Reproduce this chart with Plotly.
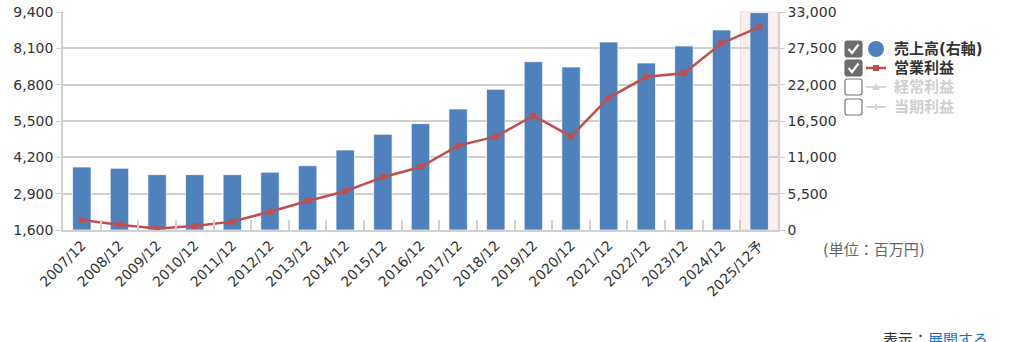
import plotly.graph_objects as go

categories = ["2007/12", "2008/12", "2009/12", "2010/12", "2011/12", "2012/12", "2013/12",
              "2014/12", "2015/12", "2016/12", "2017/12", "2018/12", "2019/12", "2020/12",
              "2021/12", "2022/12", "2023/12", "2024/12", "2025/12予"]
sales = [9530, 9340, 8380, 8380, 8380, 8740, 9730, 12110, 14490, 16100, 18320, 21300,
         25480, 24680, 28460, 25280, 27860, 30280, 32900]
op_profit = [1960, 1790, 1650, 1740, 1900, 2255, 2640, 2985, 3490, 3855, 4620, 4940,
             5690, 4950, 6330, 7080, 7210, 8280, 8860]
left_ticks = [1600, 2900, 4200, 5500, 6800, 8100, 9400]
right_ticks = [0, 5500, 11000, 16500, 22000, 27500, 33000]

W, H = 1024, 342
L, R, T, B = 63, 778, 12, 230
FONT = "DejaVu Sans, Noto Sans CJK JP, sans-serif"
BLUE = "#4F81BD"
RED = "#C0504D"
GRID = "#d0d0d0"


def px(x):
    return (x - L) / (R - L)


def py(y):
    return (B - y) / (B - T)


fig = go.Figure()
# bars on right-side axis (y), line on left-side axis (y2, drawn on top)
fig.add_trace(go.Bar(x=categories, y=sales, yaxis="y", marker=dict(color=BLUE, line=dict(color="rgba(255,255,255,0.7)", width=1)),
                     width=0.49, name="売上高(右軸)", showlegend=False))
fig.add_trace(go.Scatter(x=categories, y=op_profit, yaxis="y2", mode="lines+markers",
                         line=dict(color=RED, width=2.5), marker=dict(symbol="square", size=6, color=RED),
                         name="営業利益", showlegend=False))

shapes = []
shapes.append(dict(type="rect", xref="x", yref="paper", x0=17.5, x1=18.5, y0=0, y1=1,
                   fillcolor="rgba(253,232,232,0.7)", line=dict(color="rgba(245,215,215,1)", width=1), layer="below"))


def rounded_box(x0, y0, x1, y1, r, fill, border):
    p = (f"M {px(x0 + r)} {py(y0)} L {px(x1 - r)} {py(y0)} Q {px(x1)} {py(y0)} {px(x1)} {py(y0 + r)} "
         f"L {px(x1)} {py(y1 - r)} Q {px(x1)} {py(y1)} {px(x1 - r)} {py(y1)} "
         f"L {px(x0 + r)} {py(y1)} Q {px(x0)} {py(y1)} {px(x0)} {py(y1 - r)} "
         f"L {px(x0)} {py(y0 + r)} Q {px(x0)} {py(y0)} {px(x0 + r)} {py(y0)} Z")
    return dict(type="path", xref="paper", yref="paper", path=p, fillcolor=fill, line=dict(color=border, width=1.2))


rows = [49, 68, 87, 107]
labels = ["売上高(右軸)", "営業利益", "経常利益", "当期利益"]
checked = [True, True, False, False]
annotations = []
for i, (yc, lab, ck) in enumerate(zip(rows, labels, checked)):
    shapes.append(rounded_box(845, yc - 8, 862, yc + 8, 2.5, "#6d6d6d" if ck else "white", "#6d6d6d" if ck else "#777777"))
    if ck:
        shapes.append(dict(type="path", xref="paper", yref="paper",
                           path=f"M {px(848.5)} {py(yc)} L {px(852)} {py(yc + 4)} L {px(858.5)} {py(yc - 4.5)}",
                           line=dict(color="white", width=2.2)))
    if i == 0:
        shapes.append(dict(type="circle", xref="paper", yref="paper", x0=px(868), x1=px(884), y0=py(yc + 8), y1=py(yc - 8),
                           fillcolor=BLUE, line=dict(width=0)))
    else:
        col = RED if ck else "#d6d6d6"
        shapes.append(dict(type="line", xref="paper", yref="paper", x0=px(866), x1=px(886), y0=py(yc), y1=py(yc),
                           line=dict(color=col, width=2.5 if ck else 2)))
        if i == 1:
            shapes.append(dict(type="rect", xref="paper", yref="paper", x0=px(873), x1=px(879), y0=py(yc + 3), y1=py(yc - 3),
                               fillcolor=col, line=dict(width=0)))
        elif i == 2:
            shapes.append(dict(type="path", xref="paper", yref="paper",
                               path=f"M {px(872)} {py(yc + 3)} L {px(880)} {py(yc + 3)} L {px(876)} {py(yc - 4)} Z",
                               fillcolor=col, line=dict(width=0)))
        else:
            shapes.append(dict(type="line", xref="paper", yref="paper", x0=px(876), x1=px(876), y0=py(yc - 3), y1=py(yc + 3),
                               line=dict(color=col, width=2)))
    annotations.append(dict(xref="paper", yref="paper", x=px(892), y=py(yc), xanchor="left", yanchor="middle",
                            text=f"<b>{lab}</b>", showarrow=False,
                            font=dict(family=FONT, size=15, color="#333333" if ck else "#cfcfcf")))

annotations.append(dict(xref="paper", yref="paper", x=px(821), y=py(250), xanchor="left", yanchor="middle",
                        text="(単位：百万円)", showarrow=False, font=dict(family=FONT, size=15, color="#666666")))
annotations.append(dict(xref="paper", yref="paper", x=px(881), y=py(329), xanchor="left", yanchor="top",
                        text="表示：<span style='color:#1a6fd1'>展開する</span>", showarrow=False,
                        font=dict(family=FONT, size=15, color="#333333")))

fig.update_layout(
    width=W, height=H,
    margin=dict(l=L, r=W - R, t=T, b=H - B, pad=0),
    paper_bgcolor="white", plot_bgcolor="white",
    bargap=0.5,
    showlegend=False,
    shapes=shapes, annotations=annotations,
    xaxis=dict(type="category", showline=True, linecolor=GRID, linewidth=1.5, automargin=False,
               ticks="inside", tickson="boundaries", ticklen=10, tickcolor=GRID, tickwidth=1.5,
               tickangle=-45, tickfont=dict(family=FONT, size=14, color="#333333"), showgrid=False,
               range=[-0.5, 18.5]),
    yaxis=dict(range=[0, 33000], tickvals=right_ticks, tickformat=",d", side="right", showgrid=True,
               gridcolor=GRID, gridwidth=1.5, automargin=False,
               showline=True, linecolor=GRID, linewidth=1.5, ticks="outside", ticklen=5, tickcolor=GRID,
               tickfont=dict(family=FONT, size=14, color="#333333"), zeroline=False),
    yaxis2=dict(range=[1600, 9400], tickvals=left_ticks, tickformat=",d", overlaying="y", side="left", showgrid=False,
                showline=True, linecolor=GRID, linewidth=1.5, ticks="outside", ticklen=5, tickcolor=GRID, automargin=False,
                tickfont=dict(family=FONT, size=14, color="#333333"), zeroline=False),
)

fig.write_html("out.html")
